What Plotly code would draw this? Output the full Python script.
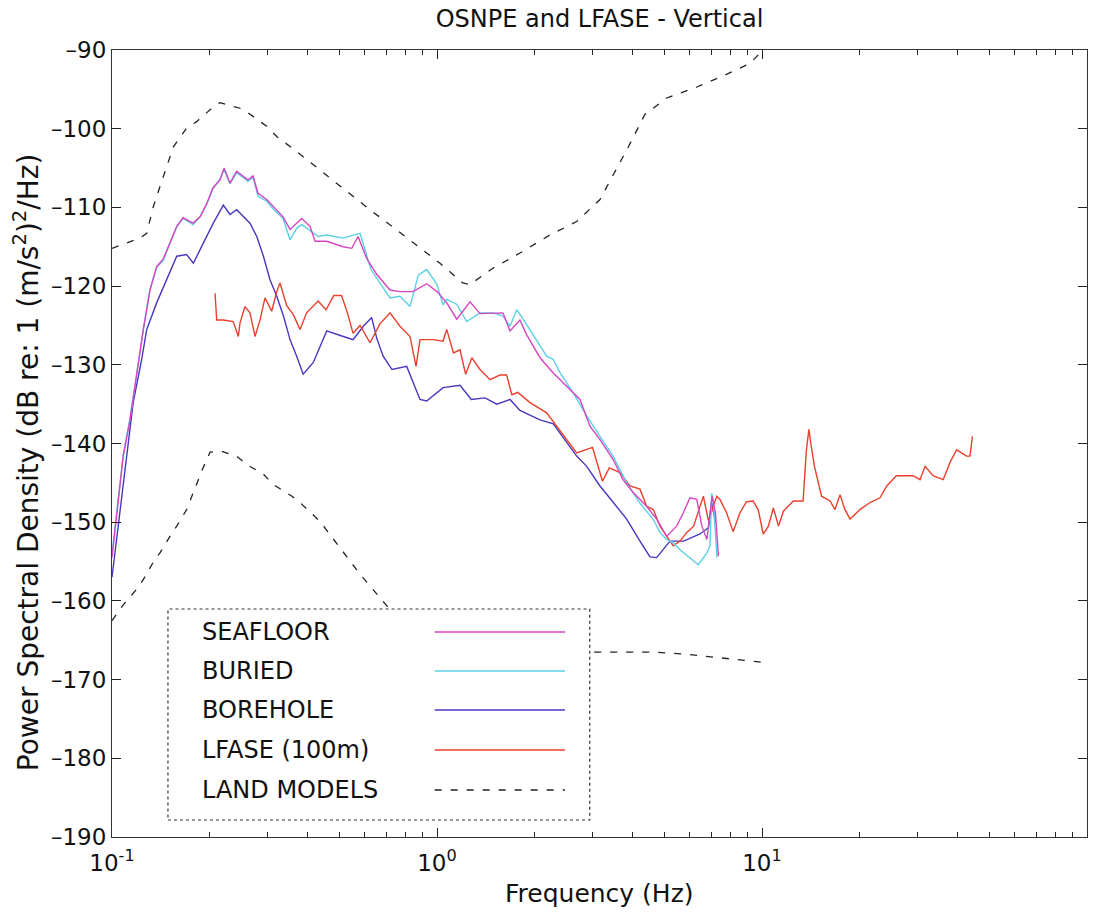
import plotly.graph_objects as go

# ---------------- data ----------------
seafloor_f = [0.1, 0.1035, 0.1083, 0.1136, 0.1177, 0.1219, 0.1248, 0.1273, 0.1309, 0.1373,
              0.1435, 0.1508, 0.1582, 0.1654, 0.1776, 0.1866, 0.1957, 0.2046, 0.2149, 0.2212,
              0.2307, 0.2419, 0.253, 0.262, 0.2716, 0.2814, 0.2993, 0.313, 0.336, 0.353,
              0.3702, 0.3835, 0.4067, 0.4214, 0.4578, 0.5139, 0.5466, 0.5715, 0.6078, 0.6523,
              0.7168, 0.7694, 0.8437, 0.9295, 1.0, 1.071, 1.150, 1.2635, 1.356, 1.487,
              1.596, 1.677, 1.80, 1.888, 2.075, 2.275, 2.507, 2.754, 2.956, 3.173,
              3.48, 3.735, 4.01, 4.42, 4.74, 5.09, 5.46, 5.73, 6.0, 6.30,
              6.53, 6.77, 7.02, 7.19, 7.34]
seafloor_db = [-154.5, -149.2, -141.6, -137.0, -132.7, -128.1, -125.5, -123.5, -120.5, -117.5,
               -116.6, -114.5, -112.4, -111.3, -112.0, -111.2, -109.5, -107.5, -106.5, -105.0,
               -106.9, -105.4, -106.0, -106.5, -106.0, -108.2, -109.0, -109.9, -111.2, -112.8,
               -112.0, -111.4, -112.4, -114.3, -114.3, -115.0, -115.2, -113.7, -116.5, -118.5,
               -120.5, -120.7, -120.7, -119.7, -120.7, -122.1, -124.2, -122.0, -123.5, -123.4,
               -123.4, -125.7, -124.3, -126.2, -129.1, -131.0, -132.7, -134.4, -137.8, -139.5,
               -142.0, -144.6, -146.2, -148.0, -149.6, -151.8, -150.5, -148.8, -146.9, -147.1,
               -150.5, -152.2, -146.7, -148.8, -154.3]

buried_f = [0.1, 0.1035, 0.1083, 0.1136, 0.1177, 0.1219, 0.1248, 0.1273, 0.1309, 0.1373,
            0.1435, 0.1508, 0.1582, 0.1654, 0.1776, 0.1866, 0.1957, 0.2046, 0.2149, 0.2212,
            0.2307, 0.2419, 0.253, 0.262, 0.2716, 0.2814, 0.2993, 0.313, 0.336, 0.353,
            0.371, 0.3844, 0.4306, 0.4578, 0.5139, 0.5796, 0.6265, 0.6677, 0.7168, 0.7694,
            0.8259, 0.876, 0.9295, 0.998, 1.044, 1.071, 1.150, 1.234, 1.356, 1.487,
            1.596, 1.677, 1.76, 1.888, 2.075, 2.175, 2.275, 2.39, 2.627, 2.888,
            3.173, 3.48, 3.833, 4.213, 4.62, 4.854, 5.09, 5.32, 5.593, 6.0,
            6.37, 6.77, 6.918, 7.0, 7.07, 7.19, 7.27]
buried_db = [-154.0, -148.8, -141.4, -136.8, -132.5, -128.0, -125.3, -123.3, -120.4, -117.6,
             -116.8, -114.6, -112.5, -111.4, -112.2, -111.2, -109.6, -107.6, -106.4, -105.2,
             -107.0, -105.6, -106.2, -106.7, -106.2, -108.6, -109.2, -110.2, -111.4, -114.1,
             -112.6, -112.2, -113.7, -113.5, -113.9, -113.3, -117.9, -119.6, -121.5, -121.3,
             -122.6, -118.6, -117.9, -119.7, -122.4, -121.7, -122.3, -124.5, -123.4, -123.4,
             -123.8, -125.1, -123.0, -124.9, -127.6, -128.9, -129.3, -131.0, -133.6, -136.5,
             -139.1, -141.6, -145.0, -147.6, -149.6, -151.3, -152.2, -152.6, -153.5, -154.5,
             -155.4, -153.9, -153.0, -146.3, -147.1, -151.3, -154.5]

borehole_f = [0.1, 0.1035, 0.1110, 0.1162, 0.1234, 0.1279, 0.1373, 0.1473, 0.1582, 0.1697,
              0.1780, 0.1911, 0.2050, 0.2201, 0.2307, 0.2419, 0.2536, 0.2658, 0.2789, 0.2924,
              0.3063, 0.3213, 0.337, 0.353, 0.370, 0.3875, 0.4163, 0.4578, 0.515, 0.5518,
              0.5934, 0.6297, 0.6523, 0.683, 0.727, 0.807, 0.8865, 0.9295, 1.044, 1.177,
              1.275, 1.405, 1.528, 1.677, 1.80, 2.075, 2.28, 2.507, 2.69, 2.888,
              3.173, 3.489, 3.833, 4.213, 4.522, 4.74, 4.97, 5.21, 5.74, 6.444,
              6.84, 7.0, 7.19]
borehole_db = [-157.0, -152.0, -141.2, -134.8, -129.3, -125.5, -122.1, -119.2, -116.2, -116.0,
               -117.1, -114.5, -112.0, -109.7, -110.9, -110.3, -111.2, -112.0, -113.7, -116.2,
               -119.2, -121.3, -123.8, -126.8, -128.9, -131.2, -129.7, -125.7, -126.4, -126.8,
               -125.1, -124.0, -126.6, -128.9, -130.6, -130.2, -134.4, -134.6, -132.9, -132.6,
               -134.4, -134.2, -135.0, -134.4, -135.8, -137.0, -137.5, -139.9, -141.6, -142.9,
               -145.4, -147.5, -149.6, -152.4, -154.4, -154.5, -153.5, -152.4, -152.4, -151.5,
               -150.7, -147.5, -150.0]

lfase_f = [0.2075, 0.2100, 0.2201, 0.236, 0.2448, 0.2476, 0.2566, 0.2658, 0.2755, 0.2854,
           0.2957, 0.3100, 0.3213, 0.3288, 0.3448, 0.361, 0.3789, 0.397, 0.4306, 0.4557,
           0.4813, 0.5085, 0.531, 0.5518, 0.5796, 0.6078, 0.6221, 0.6677, 0.7168, 0.7694,
           0.8259, 0.862, 0.8865, 0.974, 1.044, 1.071, 1.124, 1.177, 1.225, 1.28,
           1.356, 1.456, 1.563, 1.637, 1.70, 1.773, 1.933, 2.175, 2.335, 2.507,
           2.69, 3.01, 3.23, 3.39, 3.656, 3.924, 4.213, 4.42, 4.63, 4.854,
           5.09, 5.33, 5.593, 5.87, 6.16, 6.60, 6.84, 7.09, 7.26, 7.425,
           7.78, 8.15, 8.556, 8.96, 9.39, 9.73, 10.09, 10.46, 10.84, 11.24,
           11.64, 12.48, 13.38, 13.7, 13.94, 14.17, 14.5, 15.25, 16.19, 16.77,
           17.38, 18.0, 18.66, 20.03, 21.49, 23.07, 24.2, 25.9, 29.2, 30.63,
           31.75, 33.6, 36.1, 37.89, 39.7, 42.6, 43.65, 44.4]
lfase_db = [-120.9, -124.3, -124.3, -124.5, -126.4, -124.7, -122.6, -123.4, -126.4, -124.3,
            -121.5, -123.2, -120.7, -119.6, -122.5, -123.6, -125.5, -123.4, -121.9, -123.0,
            -121.2, -121.2, -123.5, -126.0, -125.0, -126.4, -127.2, -124.8, -123.4, -125.1,
            -126.4, -130.2, -126.8, -126.8, -127.0, -125.5, -128.5, -128.1, -131.2, -129.1,
            -130.6, -131.9, -131.3, -131.3, -133.8, -133.5, -134.8, -136.1, -137.8, -139.5,
            -141.2, -140.5, -144.8, -143.1, -143.7, -145.4, -145.8, -148.0, -148.4, -150.5,
            -151.8, -153.0, -152.4, -151.3, -150.5, -146.7, -149.8, -148.0, -146.7, -147.1,
            -148.8, -151.2, -148.8, -147.4, -147.3, -148.4, -151.5, -150.5, -148.2, -150.5,
            -148.6, -147.3, -147.3, -140.8, -138.2, -140.3, -142.9, -146.7, -147.3, -148.4,
            -146.5, -148.4, -149.6, -148.4, -147.5, -146.9, -145.4, -144.1, -144.1, -144.6,
            -142.9, -144.1, -144.6, -142.4, -140.8, -141.6, -141.6, -139.1]

land_high_f = [0.1, 0.1219, 0.1279, 0.1340, 0.1438, 0.1545, 0.1697, 0.1822, 0.2027, 0.2149,
               0.2476, 0.2626, 0.2993, 0.3213, 0.370, 0.447, 0.527, 0.6221, 0.748, 1.0215,
               1.20, 1.2635, 1.49, 1.80, 2.227, 2.69, 3.173, 3.489, 3.88, 4.36,
               5.09, 6.30, 7.68, 9.184, 9.858, 10.13]
land_high_db = [-115.2, -113.9, -113.3, -109.9, -106.1, -102.3, -99.9, -99.1, -97.4, -96.7,
                -97.4, -98.0, -99.7, -101.0, -102.9, -105.6, -108.0, -110.3, -112.8, -117.1,
                -119.6, -119.8, -117.7, -115.8, -113.5, -111.8, -109.0, -105.9, -102.3, -98.2,
                -96.1, -94.7, -93.2, -91.7, -90.4, -89.5]

land_low_f = [0.1, 0.1083, 0.1192, 0.1248, 0.1356, 0.1405, 0.1508, 0.1582, 0.1697, 0.1738,
              0.184, 0.1888, 0.2003, 0.2176, 0.2419, 0.2602, 0.2924, 0.3133, 0.358, 0.3789,
              0.4365, 0.5093, 0.5796, 0.6677, 0.81, 1.25, 2.5, 2.956, 4.63, 5.95,
              7.28, 9.31, 10.0]
land_low_db = [-162.5, -160.5, -158.5, -157.3, -154.7, -153.9, -151.8, -150.5, -148.4, -147.3,
               -144.8, -143.5, -141.1, -141.0, -141.6, -142.7, -143.9, -145.2, -146.7, -147.5,
               -149.9, -153.5, -156.6, -159.6, -163.7, -169.2, -166.7, -166.5, -166.5, -166.8,
               -167.2, -167.6, -167.8]

legend_names = ["SEAFLOOR", "BURIED", "BOREHOLE", "LFASE (100m)", "LAND MODELS"]
x_tick_vals = [0.1, 1, 10, 100]
x_tick_text = ["10<sup>-1</sup>", "10<sup>0</sup>", "10<sup>1</sup>", "10<sup>2</sup>"]
x_minor_vals = [m * d for d in (0.1, 1, 10) for m in range(2, 10)]
y_tick_vals = list(range(-190, -89, 10))
y_tick_text = ["\u2013" + str(abs(v)) for v in y_tick_vals]

# ---------------- styles ----------------
C_SEA = "#d646c2"
C_BUR = "#5cd0e4"
C_BOR = "#4638c0"
C_LFA = "#e8402c"
C_LAND = "#222222"
FONT = "DejaVu Sans"
DASH = "7px,9px"

fig = go.Figure()
fig.add_trace(go.Scatter(x=land_high_f, y=land_high_db, mode="lines", name="LAND MODELS",
                         line=dict(color=C_LAND, width=1.3, dash=DASH), showlegend=False))
fig.add_trace(go.Scatter(x=land_low_f, y=land_low_db, mode="lines", name="LAND MODELS",
                         line=dict(color=C_LAND, width=1.3, dash=DASH), showlegend=False))
fig.add_trace(go.Scatter(x=borehole_f, y=borehole_db, mode="lines", name="BOREHOLE",
                         line=dict(color=C_BOR, width=1.4), showlegend=False))
fig.add_trace(go.Scatter(x=lfase_f, y=lfase_db, mode="lines", name="LFASE (100m)",
                         line=dict(color=C_LFA, width=1.4), showlegend=False))
fig.add_trace(go.Scatter(x=buried_f, y=buried_db, mode="lines", name="BURIED",
                         line=dict(color=C_BUR, width=1.4), showlegend=False))
fig.add_trace(go.Scatter(x=seafloor_f, y=seafloor_db, mode="lines", name="SEAFLOOR",
                         line=dict(color=C_SEA, width=1.4), showlegend=False))

# ---------------- custom legend (box at lower left, sample lines to the right) ----------------
lx0, lx1, ly0, ly1 = 0.0574, 0.490, 0.0216, 0.2897
fig.add_shape(type="rect", xref="paper", yref="paper", x0=lx0, x1=lx1, y0=ly0, y1=ly1,
              fillcolor="white", line=dict(color="#333", width=1.2, dash="dot"), layer="above")
legend_colors = [C_SEA, C_BUR, C_BOR, C_LFA, C_LAND]
legend_dash = ["solid", "solid", "solid", "solid", DASH]
row_y = [0.2605, 0.2109, 0.1614, 0.1105, 0.0597]
for name, col, dsh, yy in zip(legend_names, legend_colors, legend_dash, row_y):
    fig.add_annotation(xref="paper", yref="paper", x=0.0903, y=yy, text=name, showarrow=False,
                       xanchor="left", yanchor="middle", font=dict(family=FONT, size=24, color="#111"))
    fig.add_shape(type="line", xref="paper", yref="paper", x0=0.331, x1=0.4646, y0=yy, y1=yy,
                  line=dict(color=col, width=1.6, dash=dsh), layer="above")

# ---------------- axis titles ----------------
fig.add_annotation(xref="paper", yref="paper", x=0.5, y=-0.072, text="Frequency (Hz)",
                   showarrow=False, xanchor="center", yanchor="middle",
                   font=dict(family=FONT, size=25, color="#111"))
fig.add_annotation(xref="paper", yref="paper", x=-0.087, y=0.4765,
                   text="Power Spectral Density (dB re: 1 (m/s<sup>2</sup>)<sup>2</sup>/Hz)",
                   showarrow=False, textangle=-90, xanchor="center", yanchor="middle",
                   font=dict(family=FONT, size=28, color="#111"))

fig.update_layout(
    width=1102, height=918,
    margin=dict(l=112, r=15, t=50, b=81),
    paper_bgcolor="white", plot_bgcolor="white",
    showlegend=False,
    title=dict(text="OSNPE and LFASE - Vertical", x=0.5, xref="paper", y=0.980, yref="container",
               xanchor="center", yanchor="middle", font=dict(family=FONT, size=24, color="#111")),
    font=dict(family=FONT, size=22, color="#111"),
)
fig.update_xaxes(type="log", range=[-1, 2], tickmode="array", tickvals=x_tick_vals, ticktext=x_tick_text,
                 ticks="inside", ticklen=9, tickwidth=1, tickcolor="#222", ticklabelstandoff=5,
                 minor=dict(tickmode="array", tickvals=x_minor_vals, ticks="inside", ticklen=5,
                            tickwidth=1, tickcolor="#222", showgrid=False),
                 showline=True, linecolor="#333", linewidth=1.2, mirror="allticks",
                 showgrid=False, zeroline=False, tickfont=dict(family=FONT, size=23, color="#111"))
fig.update_yaxes(range=[-190, -90], tickmode="array", tickvals=y_tick_vals, ticktext=y_tick_text,
                 ticks="inside", ticklen=9, tickwidth=1, tickcolor="#222",
                 showline=True, linecolor="#333", linewidth=1.2, mirror="allticks",
                 showgrid=False, zeroline=False, tickfont=dict(family=FONT, size=23, color="#111"))

fig.write_html("out.html", config={"displayModeBar": False},
               post_script="document.body.style.margin='0';document.body.style.overflow='hidden';")
